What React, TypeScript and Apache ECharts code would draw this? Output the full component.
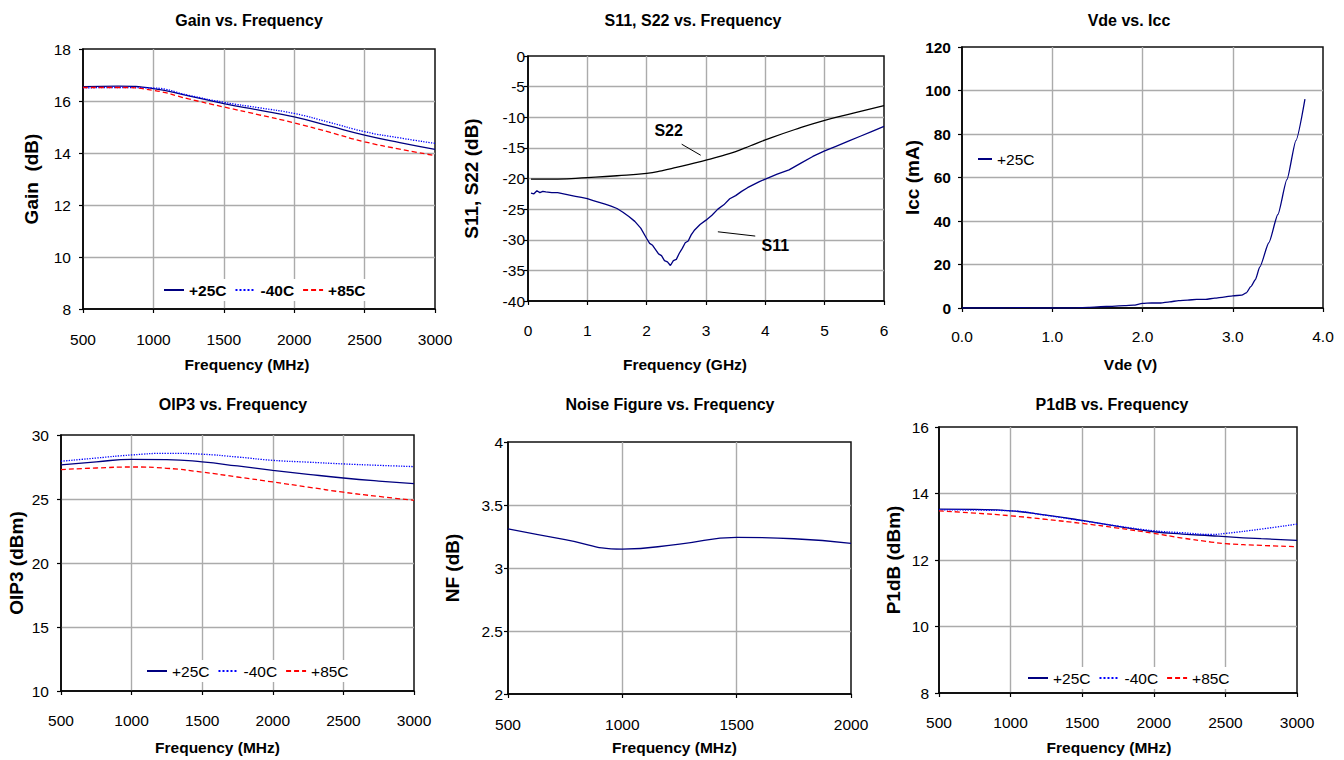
import React, { useEffect, useRef } from "react";
import * as echarts from "echarts";

// ---------- DATA ----------
const gainFreq = [500, 750, 1000, 1250, 1500, 1750, 2000, 2250, 2500, 2750, 3000];
const gain25 = [16.55, 16.57, 16.48, 16.2, 15.9, 15.65, 15.39, 15.04, 14.69, 14.4, 14.14];
const gainM40 = [16.5, 16.52, 16.5, 16.22, 15.95, 15.74, 15.52, 15.18, 14.82, 14.58, 14.37];
const gain85 = [16.52, 16.52, 16.41, 16.08, 15.77, 15.47, 15.16, 14.8, 14.43, 14.15, 13.9];

const s11Freq = [0.05, 0.1, 0.15, 0.2, 0.25, 0.3, 0.4, 0.5, 0.6, 0.7, 0.8, 0.9, 1.0, 1.1, 1.2, 1.3, 1.4, 1.5, 1.6, 1.7, 1.8, 1.9, 2.0, 2.05, 2.1, 2.15, 2.2, 2.25, 2.3, 2.35, 2.4, 2.45, 2.5, 2.55, 2.6, 2.65, 2.7, 2.75, 2.8, 2.85, 2.9, 3.0, 3.1, 3.2, 3.3, 3.4, 3.5, 3.6, 3.7, 3.8, 3.9, 4.0, 4.2, 4.4, 4.6, 4.8, 5.0, 5.2, 5.4, 5.6, 5.8, 6.0];
const s11Vals = [-22.4, -22.5, -22.0, -22.3, -22.1, -22.2, -22.3, -22.3, -22.5, -22.7, -22.9, -23.1, -23.3, -23.6, -23.9, -24.2, -24.5, -24.9, -25.5, -26.2, -27.0, -28.1, -29.8, -30.6, -30.9, -31.6, -32.3, -32.6, -33.4, -33.6, -34.2, -33.4, -33.2, -32.2, -31.4, -30.5, -30.2, -29.2, -28.5, -28.0, -27.5, -26.8, -26.0, -25.0, -24.3, -23.3, -22.8, -22.1, -21.5, -21.0, -20.5, -20.1, -19.3, -18.6, -17.5, -16.4, -15.5, -14.7, -13.9, -13.1, -12.3, -11.5];
const s22Freq = [0.05, 0.5, 1.0, 1.5, 2.0, 2.25, 2.5, 2.75, 3.0, 3.25, 3.5, 3.75, 4.0, 4.5, 5.0, 5.5, 6.0];
const s22Vals = [-20.1, -20.1, -19.85, -19.55, -19.15, -18.75, -18.2, -17.6, -17.0, -16.35, -15.6, -14.65, -13.7, -12.0, -10.5, -9.3, -8.1];
// annotation anchors (data coordinates): [textX, textY, lineX1, lineY1, lineX2, lineY2]
const s22Note = [2.37, -12.1, 2.59, -14.4, 2.91, -16.2];
const s11Note = [4.17, -31.0, 3.2, -28.7, 3.83, -29.4];

const vdeVolts = [0, 0.2, 0.4, 0.6, 0.7, 0.8, 1.0, 1.2, 1.4, 1.6, 1.8, 1.9, 2.0, 2.1, 2.2, 2.3, 2.4, 2.5, 2.6, 2.7, 2.8, 2.9, 3.0, 3.1, 3.15, 3.2, 3.25, 3.3, 3.4, 3.5, 3.6, 3.7, 3.8];
const iccVals = [0, 0, 0, 0.2, 0.2, 0, 0, 0, 0.3, 0.7, 1.1, 1.3, 2.1, 2.3, 2.3, 2.8, 3.4, 3.6, 4.0, 4.0, 4.5, 5.0, 5.6, 5.9, 7.0, 9.8, 13.0, 18.9, 30, 43, 59, 77, 96];

const oipFreq = [500, 750, 1000, 1250, 1500, 1750, 2000, 2250, 2500, 2750, 3000];
const oip25 = [27.66, 27.9, 28.1, 28.08, 27.9, 27.58, 27.24, 26.93, 26.64, 26.4, 26.2];
const oipM40 = [27.95, 28.2, 28.44, 28.57, 28.5, 28.28, 28.02, 27.88, 27.74, 27.63, 27.53];
const oip85 = [27.3, 27.42, 27.5, 27.4, 27.1, 26.72, 26.33, 25.93, 25.53, 25.2, 24.9];

const nfFreq = [500, 750, 1000, 1250, 1500, 1750, 2000];
const nfVals = [3.31, 3.225, 3.15, 3.19, 3.243, 3.232, 3.195];

const p1Freq = [500, 750, 1000, 1250, 1500, 1750, 2000, 2200, 2400, 2500, 2750, 3000];
const p125 = [13.53, 13.52, 13.48, 13.35, 13.19, 13.01, 12.85, 12.78, 12.73, 12.7, 12.64, 12.59];
const p1M40 = [13.51, 13.5, 13.48, 13.34, 13.18, 13.02, 12.88, 12.82, 12.77, 12.8, 12.93, 13.08];
const p185 = [13.48, 13.41, 13.33, 13.22, 13.1, 12.96, 12.8, 12.66, 12.54, 12.49, 12.44, 12.4];

const tempNames = ["+25C", "-40C", "+85C"];
const titles = ["Gain vs. Frequency", "S11, S22 vs. Frequency", "Vde vs. Icc", "OIP3 vs. Frequency", "Noise Figure vs. Frequency", "P1dB vs. Frequency"];

const zip = (xs: number[], ys: number[]) => xs.map((x, i) => [x, ys[i]]);

const FN = "'Liberation Sans Narrow', 'Arial Narrow', 'Liberation Sans', Arial, sans-serif";
const FW = "'Liberation Sans', Arial, sans-serif";
const FS = 15.5;
const NAVY = "#000080";
const BLUE = "#0000ff";
const RED = "#ff0000";

function xAx(gi: number, min: number, max: number, interval: number, name: string, nameGap: number, shift: number, margin: number, fmt?: (v: number) => string) {
  return {
    type: "value", gridIndex: gi, min, max, interval, name, nameLocation: "middle", nameGap,
    nameMoveOverlap: false,
    nameTextStyle: {
      fontFamily: FN, fontSize: 15.5, fontWeight: "bold", color: "#000",
      padding: shift < 0 ? [0, -2 * shift, 0, 0] : [0, 0, 0, 2 * shift],
    },
    axisLine: { show: true, onZero: false, lineStyle: { color: "#000", width: 1.5 } },
    axisTick: { show: true, length: 4, lineStyle: { color: "#000", width: 1.2 } },
    axisLabel: { fontFamily: FN, fontSize: FS, color: "#000", margin, formatter: fmt || ((v: number) => String(v)), showMinLabel: true, showMaxLabel: true },
    splitLine: { show: true, showMinLine: false, showMaxLine: false, lineStyle: { color: "#ababab", width: 1.4 } },
  };
}

function yAx(gi: number, min: number, max: number, interval: number, name: string, nameGap: number, margin: number, bold = false) {
  return {
    type: "value", gridIndex: gi, min, max, interval, name, nameLocation: "middle", nameGap,
    nameMoveOverlap: false,
    nameTextStyle: { fontFamily: FW, fontSize: 19, fontWeight: "bold", color: "#000" },
    axisLine: { show: true, onZero: false, lineStyle: { color: "#000", width: 1.5 } },
    axisTick: { show: true, length: 4, lineStyle: { color: "#000", width: 1.2 } },
    axisLabel: { fontFamily: FN, fontSize: FS, color: "#000", margin, fontWeight: bold ? "bold" : "normal", formatter: (v: number) => String(v), showMinLabel: true, showMaxLabel: true },
    splitLine: { show: true, showMinLine: false, showMaxLine: false, lineStyle: { color: "#ababab", width: 1.4 } },
  };
}

function line(name: string, gi: number, data: number[][], color: string, type: any, smooth: any = true) {
  return {
    type: "line", name, xAxisIndex: gi, yAxisIndex: gi, data, showSymbol: false, symbol: "none",
    smooth, lineStyle: { color, width: 1.3, type }, itemStyle: { color },
    emphasis: { disabled: true }, silent: true,
  };
}

function legendAt(left: number, top: number, bold: boolean, names: string[], itemWidth = 20) {
  return {
    left, top, orient: "horizontal", data: names, itemWidth, itemHeight: 12, itemGap: 8,
    backgroundColor: "#ffffff", padding: [3, 4, 3, 4],
    itemStyle: { opacity: 0, color: "transparent", borderColor: "transparent", borderWidth: 0 },
    textStyle: { fontFamily: FN, fontSize: 15.5, color: "#000", fontWeight: bold ? "bold" : "normal" },
    selectedMode: false,
  };
}

const grids = [
  { left: 83, top: 49, width: 352, height: 260 },
  { left: 528, top: 56, width: 356, height: 245 },
  { left: 962, top: 47, width: 361, height: 261 },
  { left: 61, top: 435, width: 353, height: 256 },
  { left: 508, top: 442, width: 343, height: 252 },
  { left: 939, top: 427, width: 358, height: 266 },
];
const titlePos = [[244, 7], [688, 7], [1124, 7], [228, 391], [665, 391], [1107, 391]];

export default function App() {
  const ref = useRef<HTMLDivElement>(null);
  useEffect(() => {
    document.body.style.margin = "0";
    const chart = echarts.init(ref.current!, null, { renderer: "svg" });
    const noteLbl = { fontFamily: FN, fontSize: 16, fontWeight: "bold", color: "#000" };
    const option: any = {
      animation: false,
      backgroundColor: "#ffffff",
      title: titles.map((t, i) => ({
        text: t, left: titlePos[i][0], top: titlePos[i][1], textAlign: "center",
        textStyle: { fontFamily: FN, fontSize: 16, fontWeight: "bold", color: "#000" },
      })),
      grid: grids.map((g) => ({ ...g, show: true, borderColor: "#111", borderWidth: 1.5, backgroundColor: "transparent", containLabel: false, outerBoundsMode: "none" })),
      legend: [
        legendAt(159, 279, true, tempNames),
        legendAt(973, 148, false, ["+25C"], 14),
        legendAt(142, 660, false, tempNames),
        legendAt(1023, 667, false, tempNames),
      ],
      xAxis: [
        xAx(0, 500, 3000, 500, "Frequency (MHz)", 47, -12, 22),
        xAx(1, 0, 6, 1, "Frequency (GHz)", 55, -21, 21),
        xAx(2, 0, 4, 1, "Vde (V)", 48, -12, 20, (v: number) => v.toFixed(1)),
        xAx(3, 500, 3000, 500, "Frequency (MHz)", 48, -20, 21),
        xAx(4, 500, 2000, 500, "Frequency (MHz)", 45, -5, 22),
        xAx(5, 500, 3000, 500, "Frequency (MHz)", 46, -9, 21),
      ],
      yAxis: [
        yAx(0, 8, 18, 2, "Gain  (dB)", 42, 12),
        yAx(1, -40, 0, 5, "S11, S22 (dB)", 47, 3),
        yAx(2, 0, 120, 20, "Icc (mA)", 40, 11, true),
        yAx(3, 10, 30, 5, "OIP3 (dBm)", 35, 12),
        yAx(4, 2, 4, 0.5, "NF (dB)", 46, 5),
        yAx(5, 8, 16, 2, "P1dB (dBm)", 36, 10),
      ],
      series: [
        line("+25C", 0, zip(gainFreq, gain25), NAVY, "solid"),
        line("-40C", 0, zip(gainFreq, gainM40), BLUE, "dotted"),
        line("+85C", 0, zip(gainFreq, gain85), RED, [5, 3]),
        {
          ...line("S22", 1, zip(s22Freq, s22Vals), "#000000", "solid", 0.5),
          markLine: {
            silent: true, symbol: "none", label: { show: false },
            lineStyle: { color: "#000", width: 1, type: "solid" },
            data: [
              [{ coord: [s22Note[2], s22Note[3]] }, { coord: [s22Note[4], s22Note[5]] }],
              [{ coord: [s11Note[2], s11Note[3]] }, { coord: [s11Note[4], s11Note[5]] }],
            ],
          },
          markPoint: {
            silent: true, symbol: "circle", symbolSize: 0,
            label: { show: true, position: "inside", ...noteLbl, formatter: (p: any) => p.name },
            data: [
              { name: "S22", coord: [s22Note[0], s22Note[1]] },
              { name: "S11", coord: [s11Note[0], s11Note[1]] },
            ],
          },
        },
        line("S11", 1, zip(s11Freq, s11Vals), NAVY, "solid", false),
        { ...line("+25C", 2, zip(vdeVolts, iccVals), NAVY, "solid", 0.2), smoothMonotone: "x" },
        line("+25C", 3, zip(oipFreq, oip25), NAVY, "solid"),
        line("-40C", 3, zip(oipFreq, oipM40), BLUE, "dotted"),
        line("+85C", 3, zip(oipFreq, oip85), RED, [5, 3]),
        line("NF", 4, zip(nfFreq, nfVals), NAVY, "solid"),
        line("+25C", 5, zip(p1Freq, p125), NAVY, "solid"),
        line("-40C", 5, zip(p1Freq, p1M40), BLUE, "dotted"),
        line("+85C", 5, zip(p1Freq, p185), RED, [5, 3]),
      ],
    };
    chart.setOption(option);
    return () => chart.dispose();
  }, []);
  return <div ref={ref} style={{ width: 1344, height: 760 }} />;
}
